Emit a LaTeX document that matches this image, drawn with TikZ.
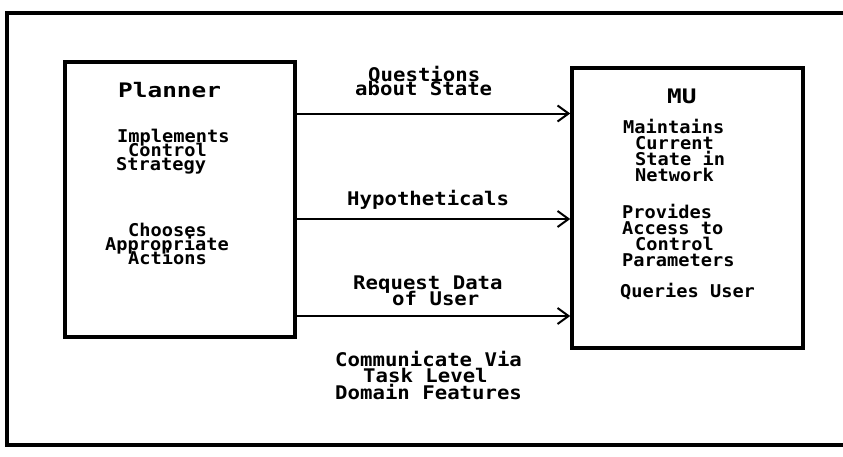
\documentclass[tikz,border=0pt]{standalone}
\usepackage{fontspec}
\usetikzlibrary{arrows.meta}
% plotter-like lettering: wide bold monospace
\newfontfamily\bodyfont[FakeStretch=1.06]{DejaVu Sans Mono}
\newfontfamily\labelfont[FakeStretch=1.1]{DejaVu Sans Mono}
\newfontfamily\titlefont[FakeStretch=1.22]{DejaVu Sans Mono}
\tikzset{
  frameline/.style={line width=4.5pt, line cap=rect},
  module/.style={draw, line width=3.5pt, inner sep=0pt},
  % multi-line blocks are placed by the baseline of their last line
  bodytext/.style={anchor=base west, inner sep=0pt, align=left,
    font=\bodyfont\bfseries\fontsize{17.6}{#1}\selectfont},
  labeltext/.style={anchor=base west, inner sep=0pt, align=left,
    font=\labelfont\bfseries\fontsize{18.8}{#1}\selectfont},
  titletext/.style={anchor=base west, inner sep=0pt, font=\titlefont\bfseries\fontsize{20}{20}\selectfont},
  msg/.style={line width=2pt, -{Straight Barb[length=11pt,width=16pt,line width=2pt]}}
}
\begin{document}
\begin{tikzpicture}[x=1pt, y=-1pt]
% tight plotter leading: never pad lines apart
\lineskiplimit=-50pt
\lineskip=0pt
\useasboundingbox (0,0) rectangle (843,456);
\fill[white] (0,0) rectangle (843,456);

% outer frame (right side runs off the sheet)
\draw[frameline] (850,13) -- (7,13) -- (7,445) -- (850,445);

% the two modules
\node[module, minimum width=230pt, minimum height=275pt] (planner) at (180,199.5) {};
\node[module, minimum width=231pt, minimum height=280pt] (mu) at (687.5,208) {};

% titles
\node[titletext] (plantitle) at (118,97) {Planner};
\node[titletext] (mutitle) at (667,103) {MU};

% Planner description
\node[bodytext=14] (plan1) at (116,170)
  {\hspace*{1pt}Implements\\ \hspace*{12pt}Control\\ Strategy};
\node[bodytext=13.8] (plan2) at (105,264)
  {\hspace*{23pt}Chooses\\ Appropriate\\ \hspace*{23pt}Actions};

% MU description
\node[bodytext=16] (mu1) at (623,181)
  {Maintains\\ \hspace*{12pt}Current\\ \hspace*{12pt}State in\\ \hspace*{12pt}Network};
\node[bodytext=15.7] (mu2) at (622,266)
  {Provides\\ Access to\\ \hspace*{13pt}Control\\ Parameters};
\node[bodytext=16] (mu3) at (620,297) {Queries User};

% messages between the modules
\coordinate (row1) at (0,113.5);
\coordinate (row2) at (0,219);
\coordinate (row3) at (0,316);
\draw[msg] (planner.east |- row1) -- (mu.west |- row1);
\draw[msg] (planner.east |- row2) -- (mu.west |- row2);
\draw[msg] (planner.east |- row3) -- (mu.west |- row3);

\node[labeltext=14] (quest) at (355,95) {\hspace*{13pt}Questions\\ about State};
\node[labeltext=16] (hyp) at (347,205) {Hypotheticals};
\node[labeltext=15.5] (req) at (353,305) {Request Data\\ \hspace*{39pt}of User};

% note under the messages
\node[labeltext=16.5] (note) at (335,399)
  {Communicate Via\\ \hspace*{28pt}Task Level\\ Domain Features};
\end{tikzpicture}
\end{document}
